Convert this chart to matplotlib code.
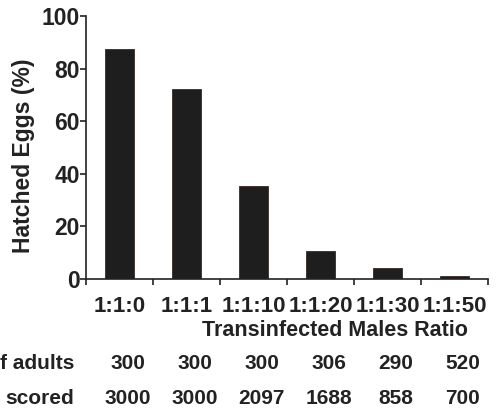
import numpy as np
import matplotlib
matplotlib.use("Agg")
from matplotlib import pyplot as plt
from matplotlib.transforms import blended_transform_factory

ratios = ['1:1:0', '1:1:1', '1:1:10', '1:1:20', '1:1:30', '1:1:50']
hatched = [87.5, 72.2, 35.5, 10.5, 4.2, 1.0]
n_adults = [300, 300, 300, 306, 290, 520]
eggs_scored = [3000, 3000, 2097, 1688, 858, 700]
row_labels = ['f adults', 'scored']

plt.rcParams['font.family'] = ['Liberation Sans', 'DejaVu Sans']
plt.rcParams['font.weight'] = 'bold'
ink = '#222222'

fig = plt.figure(figsize=(4.96, 4.11), dpi=100)
ax = fig.add_axes([86 / 496, 1 - 279 / 411, 402 / 496, 263 / 411])

x = np.arange(len(ratios))
ax.bar(x, hatched, width=0.42, color='#1e1e1e', edgecolor='#3a2a22', linewidth=0.6)

ax.set_xlim(-0.5, len(ratios) - 0.5)
ax.set_ylim(0, 100)
ax.set_yticks([0, 20, 40, 60, 80, 100])
ax.set_xticks(x)
ax.set_xticklabels(ratios)
ax.set_xticks(np.arange(-0.5, len(ratios)), minor=True)
ax.tick_params(axis='x', which='major', length=0, pad=12, labelsize=16, colors=ink)
ax.tick_params(axis='x', which='minor', length=4, width=1.2, color=ink)
ax.tick_params(axis='y', length=4, width=1.2, pad=0.5, labelsize=16.5, colors=ink)
for lbl in ax.get_xticklabels() + ax.get_yticklabels():
    lbl.set_fontweight('bold')

for side in ['top', 'right']:
    ax.spines[side].set_visible(False)
for side in ['left', 'bottom']:
    ax.spines[side].set_color(ink)
    ax.spines[side].set_linewidth(1.2)

ax.set_ylabel('Hatched Eggs (%)', fontsize=16.5, fontweight='bold', color=ink)
ax.yaxis.set_label_coords(-0.128, 0.47)
fig.text(335 / 496, 1 - 330 / 411, 'Transinfected Males Ratio', ha='center', va='center',
         fontsize=15.5, fontweight='bold', color=ink)

trans = blended_transform_factory(ax.transData, fig.transFigure)
row_y = [1 - 363 / 411, 1 - 398 / 411]
for i in range(len(ratios)):
    ax.text(x[i] + 0.12, row_y[0], str(n_adults[i]), transform=trans, ha='center', va='center',
            fontsize=15, fontweight='bold', color=ink)
    ax.text(x[i] + 0.12, row_y[1], str(eggs_scored[i]), transform=trans, ha='center', va='center',
            fontsize=15, fontweight='bold', color=ink)
for lab, yy in zip(row_labels, row_y):
    fig.text(74 / 496, yy, lab, ha='right', va='center', fontsize=15, fontweight='bold', color=ink)

fig.savefig('out.png', dpi=100)
